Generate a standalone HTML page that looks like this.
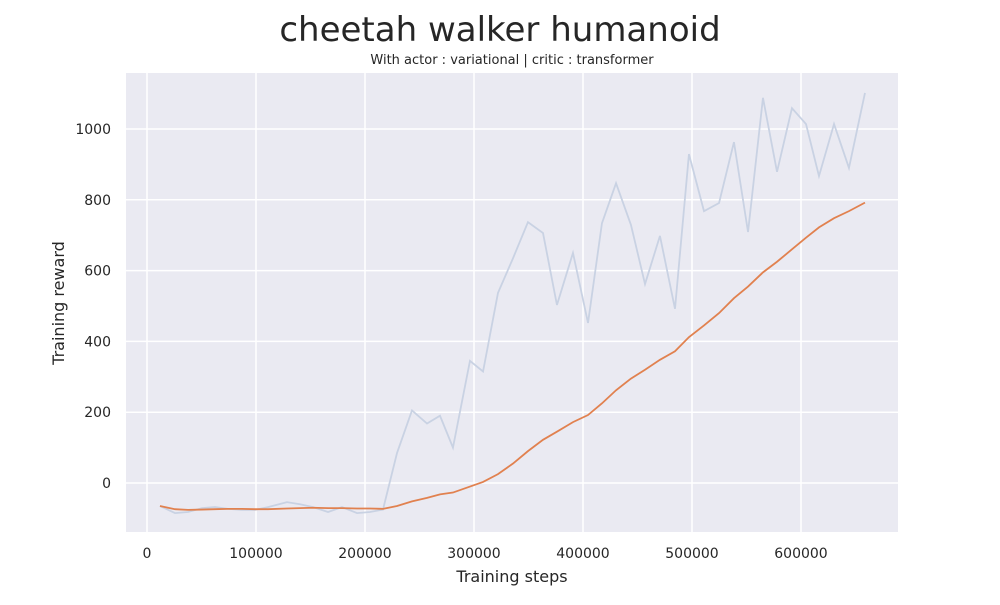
<!DOCTYPE html>
<html><head><meta charset="utf-8"><style>
body{margin:0;background:#fff;font-family:"Liberation Sans","DejaVu Sans",sans-serif;}
</style></head><body>
<svg id="chart" width="1000" height="600" xmlns="http://www.w3.org/2000/svg">
<text x="500" y="41" text-anchor="middle" font-size="34" fill="#262626" font-family="DejaVu Sans, sans-serif">cheetah walker humanoid</text>
<text x="512" y="64" text-anchor="middle" font-size="13" fill="#262626" font-family="DejaVu Sans, sans-serif">With actor : variational | critic : transformer</text>
<rect x="126" y="73" width="772" height="459" fill="#eaeaf2"/>
<g id="grid"></g>
<g id="ticks" font-family="DejaVu Sans, sans-serif" font-size="14" fill="#262626"></g>
<g id="series"></g>
<text x="512" y="582" text-anchor="middle" font-size="16" fill="#262626" font-family="DejaVu Sans, sans-serif">Training steps</text>
<text transform="translate(64,303) rotate(-90)" text-anchor="middle" font-size="16" fill="#262626" font-family="DejaVu Sans, sans-serif">Training reward</text>
</svg>
<script>
const xTicks = [0,100000,200000,300000,400000,500000,600000];
const yTicks = [0,200,400,600,800,1000];
const steps = [11900,25700,37600,50500,62400,74300,87200,99100,111000,128400,140400,152300,166100,178900,192700,204600,216500,229400,243100,256900,268800,280700,296300,308300,322000,335800,349500,363300,376100,390800,404600,417400,430300,444000,456900,470600,484400,497200,511000,524800,538500,551400,565100,578000,591700,604600,616500,630300,644000,658700];
const rawReward = [-65,-85,-82,-71,-68,-73,-76,-76,-68,-54,-60,-68,-82,-68,-85,-82,-75,85,205,168,190,100,345,315,537,635,737,706,503,650,452,734,847,729,562,698,492,929,768,791,963,709,1088,879,1059,1014,867,1014,890,1102];
const smoothReward = [-65,-74,-76,-75,-74,-73,-73,-74,-74,-72,-71,-70,-71,-71,-72,-72,-73,-65,-52,-42,-32,-27,-10,3,25,55,90,122,145,172,192,225,262,295,320,348,372,412,445,480,522,555,595,625,660,693,722,748,768,792];

const NS = "http://www.w3.org/2000/svg";
const X = v => 147 + v * 109 / 100000;
const Y = v => 483 - v * 0.354;
const grid = document.getElementById('grid');
const ticks = document.getElementById('ticks');
function mk(tag, attrs, parent){const e=document.createElementNS(NS,tag);for(const k in attrs)e.setAttribute(k,attrs[k]);parent.appendChild(e);return e;}
xTicks.forEach(t=>{
  const l=mk('line',{x1:X(t),x2:X(t),y1:73,y2:532,stroke:'#fff','stroke-width':1.5},grid);
  
  
  const tx=mk('text',{x:X(t),y:558,'text-anchor':'middle'},ticks);
  tx.textContent=t;
  
  
});
yTicks.forEach(t=>{
  const l=mk('line',{x1:126,x2:898,y1:Y(t),y2:Y(t),stroke:'#fff','stroke-width':1.5},grid);
  
  
  const tx=mk('text',{x:111,y:Y(t)+5,'text-anchor':'end'},ticks);
  tx.textContent=t;
  
  
});
const ser=document.getElementById('series');
const p1=mk('polyline',{points:steps.map((s,i)=>X(s)+','+Y(rawReward[i])).join(' '),fill:'none',stroke:'#c9d2e3','stroke-width':1.8},ser);


const p2=mk('polyline',{points:steps.map((s,i)=>X(s)+','+Y(smoothReward[i])).join(' '),fill:'none',stroke:'#e1814f','stroke-width':1.8},ser);


</script>
</body></html>
